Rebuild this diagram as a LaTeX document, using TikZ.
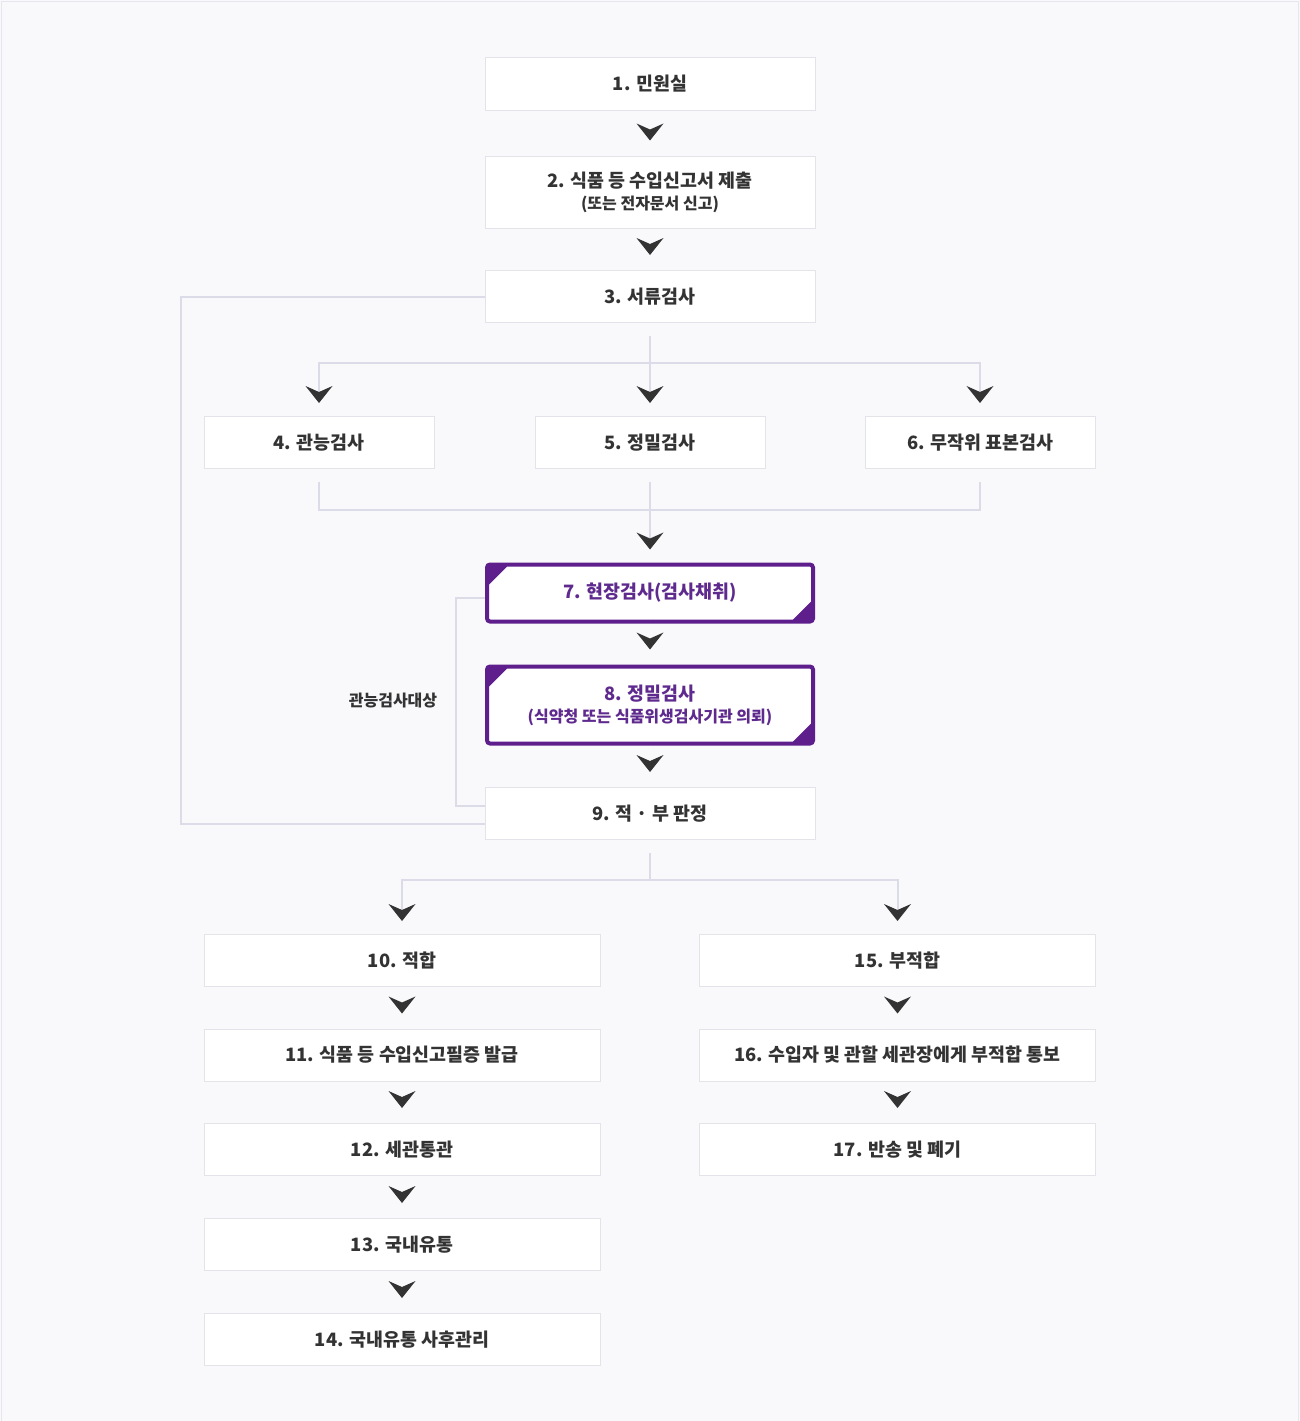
\documentclass[tikz,border=0pt]{standalone}
\usepackage{fontspec}
\setmainfont{Noto Sans CJK KR}
\usetikzlibrary{arrows.meta}
\definecolor{bg}{HTML}{F9F9FC}
\definecolor{framec}{HTML}{E6E6EC}
\definecolor{boxline}{HTML}{E3E3EA}
\definecolor{lnk}{HTML}{DCDCE8}
\definecolor{chev}{HTML}{333333}
\definecolor{txt}{HTML}{333333}
\definecolor{purp}{HTML}{5E1F8C}
\definecolor{purptxt}{HTML}{5F2A8E}
\tikzset{
  stepbox/.style={draw=boxline, line width=1pt, fill=white, minimum height=52pt,
    inner sep=0pt, text=txt, font=\bfseries\fontsize{18.4pt}{23pt}\selectfont, align=center},
  colA/.style={minimum width=330pt},
  colB/.style={minimum width=230pt},
  colC/.style={minimum width=396pt},
  hotbox/.style={draw=purp, line width=4pt, rounded corners=3pt, fill=white,
    minimum width=326pt, inner sep=0pt, text=purptxt,
    font=\bfseries\fontsize{18.4pt}{23pt}\selectfont, align=center,
    path picture={
      \fill[purp] (path picture bounding box.north west) -- ([xshift=22pt]path picture bounding box.north west)
        -- ([yshift=-22pt]path picture bounding box.north west) -- cycle;
      \fill[purp] (path picture bounding box.south east) -- ([xshift=-22pt]path picture bounding box.south east)
        -- ([yshift=22pt]path picture bounding box.south east) -- cycle;
    }},
  chevtip/.tip={Stealth[length=17pt, width=27pt, inset=6pt, color=chev, line width=0pt]},
  conn/.style={draw=lnk, line width=2pt, -chevtip},
  plain/.style={draw=bg, line width=1pt, -chevtip, shorten >=15pt},
  lnkline/.style={draw=lnk, line width=2pt},
  sidelabel/.style={text=txt, font=\bfseries\fontsize{16pt}{20pt}\selectfont, inner sep=0pt}
}
\newcommand{\subline}[1]{{\fontsize{16pt}{20pt}\selectfont #1}}
\begin{document}
\begin{tikzpicture}[x=1pt, y=-1pt]
\useasboundingbox (0,0) rectangle (1300,1421);
\fill[bg] (0,0) rectangle (1300,1421);
\draw[framec, line width=1.5pt] (1.5,1421) -- (1.5,1.5) -- (1298.5,1.5) -- (1298.5,1421);

% nodes
\node[stepbox, colA] (n1) at (650,84) {1. 민원실};
\node[stepbox, colA, minimum height=72pt] (n2) at (650,192) {2. 식품 등 수입신고서 제출\\[-1pt]\subline{(또는 전자문서 신고)}};
\node[stepbox, colA] (n3) at (650,296.5) {3. 서류검사};
\node[stepbox, colB] (n4) at (319,442.5) {4. 관능검사};
\node[stepbox, colB] (n5) at (650,442.5) {5. 정밀검사};
\node[stepbox, colB] (n6) at (980,442.5) {6. 무작위 표본검사};
\node[hotbox, minimum height=57pt] (n7) at (650,593) {7. 현장검사(검사채취)};
\node[hotbox, minimum height=77pt] (n8) at (650,705) {8. 정밀검사\\[-1pt]\subline{(식약청 또는 식품위생검사기관 의뢰)}};
\node[stepbox, colA] (n9) at (650,813.5) {9. 적 · 부 판정};
\node[stepbox, colC] (n10) at (402,960.5) {10. 적합};
\node[stepbox, colC] (n11) at (402,1055) {11. 식품 등 수입신고필증 발급};
\node[stepbox, colC] (n12) at (402,1149.5) {12. 세관통관};
\node[stepbox, colC] (n13) at (402,1244.5) {13. 국내유통};
\node[stepbox, colC] (n14) at (402,1339.5) {14. 국내유통 사후관리};
\node[stepbox, colC] (n15) at (897.5,960.5) {15. 부적합};
\node[stepbox, colC] (n16) at (897.5,1055) {16. 수입자 및 관할 세관장에게 부적합 통보};
\node[stepbox, colC] (n17) at (897.5,1149.5) {17. 반송 및 폐기};
\node[sidelabel] (lab) at (393,701) {관능검사대상};

% straight chevrons
\draw[plain] (n1.south) -- (n2.north);
\draw[plain] (n2.south) -- (n3.north);
\draw[plain] (n7.south) -- (n8.north);
\draw[plain] (n8.south) -- (n9.north);
\draw[plain] (n10.south) -- (n11.north);
\draw[plain] (n11.south) -- (n12.north);
\draw[plain] (n12.south) -- (n13.north);
\draw[plain] (n13.south) -- (n14.north);
\draw[plain] (n15.south) -- (n16.north);
\draw[plain] (n16.south) -- (n17.north);

% split after 3
\coordinate (s3) at (650,363);
\draw[conn] ([yshift=-13pt]n3.south) -- ([yshift=13pt]n5.north);
\draw[conn] (s3) -| ([yshift=13pt]n4.north);
\draw[conn] (s3) -| ([yshift=13pt]n6.north);

% merge into 7
\coordinate (m7) at (650,510);
\draw[lnkline] ([yshift=-13pt]n4.south) |- (m7);
\draw[lnkline] ([yshift=-13pt]n6.south) |- (m7);
\draw[conn] ([yshift=-13pt]n5.south) -- ([yshift=13pt]n7.north);

% split after 9
\coordinate (s9) at (650,880);
\draw[lnkline] ([yshift=-13pt]n9.south) -- (s9);
\draw[conn] (s9) -| ([yshift=13pt]n10.north);
\draw[conn] (s9) -| ([yshift=13pt]n15.north);

% side loops
\draw[lnkline] (n3.west) -- ++(-304,0) |- ([yshift=-10pt]n9.west);
\draw[lnkline] ([yshift=-5pt]n7.west) -- ++(-29,0) |- ([yshift=8pt]n9.west);
\end{tikzpicture}
\end{document}
